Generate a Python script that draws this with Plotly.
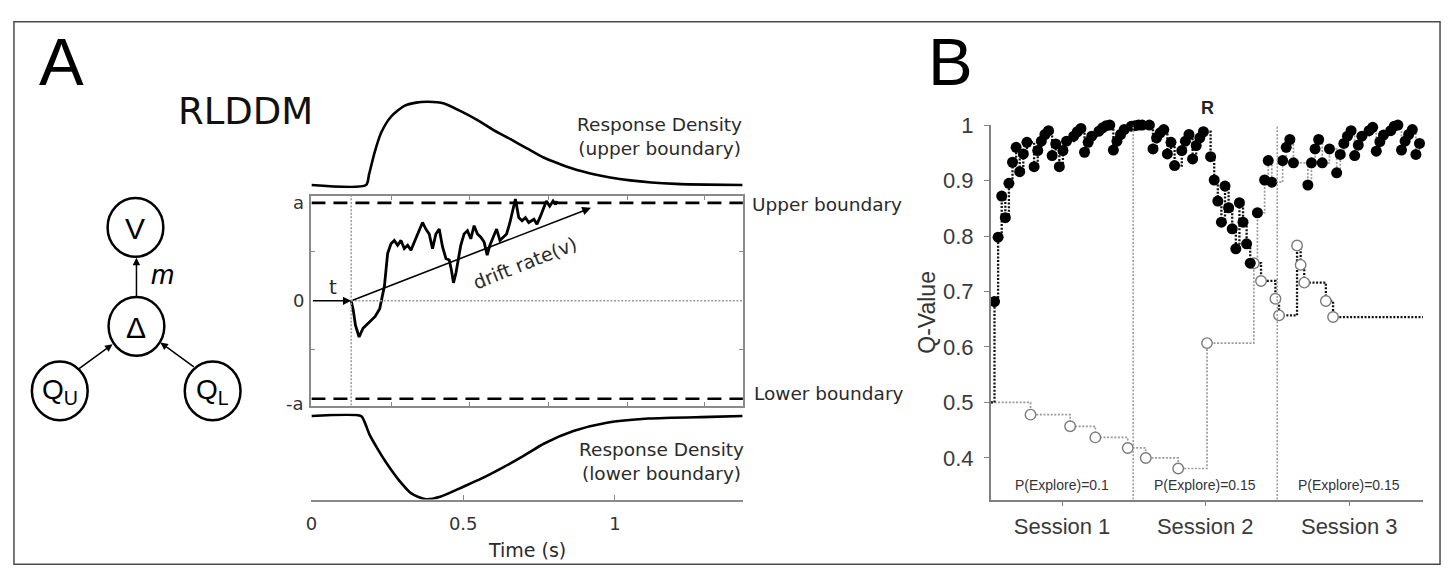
import plotly.graph_objects as go

W, H = 1448, 572


def fx(x):
    return x / W


def fy(y):
    return 1 - y / H


# ---------------- Panel A data ----------------
dens_t_upper = [0, 0.18, 0.19, 0.208, 0.23, 0.262, 0.306, 0.345, 0.383, 0.437,
                0.49, 0.547, 0.6, 0.656, 0.71, 0.765, 0.82, 0.875, 0.93, 0.984,
                1.05, 1.12, 1.2, 1.3, 1.42]
dens_upper = [0, 0, 0.13, 0.39, 0.63, 0.82, 0.95, 0.99, 1.0, 0.98,
              0.89, 0.78, 0.66, 0.55, 0.44, 0.33, 0.25, 0.18, 0.13, 0.09,
              0.055, 0.03, 0.013, 0.004, 0]
dens_t_lower = [0, 0.164, 0.175, 0.191, 0.219, 0.25, 0.288, 0.329, 0.377, 0.424,
                0.5, 0.561, 0.63, 0.699, 0.767, 0.863, 0.973, 1.11, 1.315, 1.42]
dens_lower = [0, 0, 0.07, 0.22, 0.4, 0.58, 0.77, 0.93, 1.0, 0.97,
              0.85, 0.75, 0.62, 0.48, 0.33, 0.18, 0.08, 0.03, 0.01, 0]

walk_t = [0.131, 0.138, 0.145, 0.157, 0.17, 0.19, 0.21, 0.225, 0.235, 0.2405,
          0.251, 0.262, 0.273, 0.284, 0.295, 0.306, 0.317, 0.328, 0.339, 0.355,
          0.366, 0.377, 0.388, 0.399, 0.41, 0.421, 0.432, 0.443, 0.454, 0.461,
          0.468, 0.476, 0.483, 0.492, 0.503, 0.514, 0.525, 0.536, 0.547, 0.558,
          0.569, 0.579, 0.588, 0.599, 0.61, 0.621, 0.632, 0.643, 0.654, 0.665,
          0.672, 0.683, 0.694, 0.705, 0.716, 0.733, 0.743, 0.755, 0.765, 0.774,
          0.785, 0.796, 0.804, 0.809]
walk_v = [0, -0.1, -0.25, -0.37, -0.28, -0.22, -0.16, -0.08, 0.05, 0.15,
          0.483, 0.583, 0.617, 0.567, 0.617, 0.533, 0.567, 0.517, 0.6, 0.717,
          0.8, 0.733, 0.683, 0.533, 0.683, 0.733, 0.55, 0.433, 0.417, 0.317,
          0.183, 0.283, 0.4, 0.567, 0.683, 0.717, 0.633, 0.767, 0.683, 0.65,
          0.6, 0.467, 0.567, 0.65, 0.733, 0.617, 0.65, 0.683, 0.8, 0.933,
          1.04, 0.85, 0.817, 0.85, 0.8, 0.833, 0.783, 0.867, 0.95, 1.02,
          0.967, 1.02, 0.983, 1.02]

non_decision_time = 0.131
drift_end_t, drift_end_v = 0.921, 0.95
boundary = 1.0
time_ticks = [0, 0.5, 1]
time_ticktext = ["0", "0.5", "1"]
time_max = 1.4216

# ---------------- Panel B data ----------------
q_init = 0.5
a_trials = [1, 2, 3, 4, 5, 6, 7, 8, 9, 10, 12, 13, 14, 15, 16, 17, 18, 19, 20, 21,
            23, 24, 25, 26, 27, 28, 30, 31, 32, 33, 34, 35, 36, 37, 39,
            40, 41, 42, 44, 45, 46, 47, 48, 49, 50, 51, 53, 54, 55, 56, 57, 58, 59,
            61, 62, 63, 64, 65, 66, 67, 68, 69, 70, 71, 72,
            75, 79, 80, 85, 86, 87, 93, 95]
a_values = [0.682, 0.798, 0.872, 0.833, 0.895, 0.933, 0.96, 0.916, 0.948, 0.969,
            0.925, 0.954, 0.971, 0.983, 0.99, 0.945, 0.966, 0.925, 0.954, 0.971,
            0.98, 0.988, 0.994, 0.951, 0.969, 0.98, 0.989, 0.995, 0.999, 1.0,
            0.955, 0.971, 0.983, 0.992, 0.998,
            0.999, 1.0, 1.0, 1.0, 0.957, 0.977, 0.986, 0.992, 0.948, 0.969, 0.927,
            0.954, 0.971, 0.983, 0.939, 0.963, 0.977, 0.988,
            0.943, 0.901, 0.863, 0.825, 0.89, 0.851, 0.813, 0.777, 0.86, 0.825, 0.786, 0.751,
            0.719, 0.687, 0.657, 0.783, 0.748, 0.716, 0.683, 0.654]
b_trials = [11, 22, 29, 38, 43, 52, 60, 73, 74, 76, 77, 78, 81, 82, 83, 84,
            88, 89, 90, 91, 92, 94, 96, 97, 98, 99, 100, 101, 102, 103,
            105, 106, 107, 108, 109, 111, 112, 113, 114, 115, 116, 117, 118, 119]
b_values = [0.478, 0.457, 0.437, 0.418, 0.40, 0.381, 0.607, 0.751,
            0.842, 0.901, 0.936, 0.897, 0.936, 0.96, 0.974, 0.932,
            0.892, 0.932, 0.957, 0.974, 0.932, 0.957,
            0.914, 0.947, 0.967, 0.98, 0.99, 0.945, 0.964, 0.98,
            0.99, 0.996, 0.953, 0.97, 0.982, 0.99, 0.998, 1.0, 0.955, 0.971,
            0.983, 0.992, 0.947, 0.967]
explore_trials = [11, 22, 29, 38, 43, 52, 60, 73, 75, 79, 80, 85, 86, 87, 93, 95]
n_trials = 120
session_bounds = [39.5, 79.5]
session_centers = [19.75, 59.5, 99.5]
session_labels = ["Session 1", "Session 2", "Session 3"]
p_explore_labels = ["P(Explore)=0.1", "P(Explore)=0.15", "P(Explore)=0.15"]
reversal_trial = 60
q_ticks = [0.4, 0.5, 0.6, 0.7, 0.8, 0.9, 1.0]
q_ticktext = ["0.4", "0.5", "0.6", "0.7", "0.8", "0.9", "1"]

# ---------------- styles ----------------
SANS = "Liberation Sans, Arial, sans-serif"
VERD = "DejaVu Sans, Verdana, sans-serif"
FRAME = "#8a8a8a"
TXT = "#2a2a2a"
DOT = "2px,1.6px"

fig = go.Figure()

# Panel A traces
fig.add_trace(go.Scatter(x=dens_t_upper, y=dens_upper, mode="lines", xaxis="x", yaxis="y",
                         line=dict(color="black", width=2.6, shape="spline", smoothing=0.7)))
fig.add_trace(go.Scatter(x=walk_t, y=walk_v, mode="lines", xaxis="x2", yaxis="y2",
                         line=dict(color="black", width=2.8)))
fig.add_trace(go.Scatter(x=dens_t_lower, y=[-d for d in dens_lower], mode="lines", xaxis="x3", yaxis="y3",
                         line=dict(color="black", width=2.6, shape="spline", smoothing=0.7)))

# Panel B traces
a_line_x = [0] + a_trials + [n_trials]
a_line_y = [q_init] + a_values + [a_values[-1]]
b_line_x = [0] + b_trials + [n_trials]
b_line_y = [q_init] + b_values + [b_values[-1]]
fig.add_trace(go.Scatter(x=b_line_x, y=b_line_y, mode="lines", xaxis="x4", yaxis="y4",
                         line=dict(color="#9a9a9a", width=1.7, dash=DOT, shape="hv")))
fig.add_trace(go.Scatter(x=a_line_x, y=a_line_y, mode="lines", xaxis="x4", yaxis="y4",
                         line=dict(color="#111111", width=2.3, dash=DOT, shape="hv")))

pts = list(zip(a_trials, a_values)) + list(zip(b_trials, b_values))
open_pts = [(t, v) for t, v in pts if t in explore_trials]
fill_pts = [(t, v) for t, v in pts if t not in explore_trials]
fig.add_trace(go.Scatter(x=[p[0] for p in open_pts], y=[p[1] for p in open_pts], mode="markers",
                         xaxis="x4", yaxis="y4", cliponaxis=False,
                         marker=dict(size=10.5, color="white", line=dict(color="#7a7a7a", width=1.4))))
fig.add_trace(go.Scatter(x=[p[0] for p in fill_pts], y=[p[1] for p in fill_pts], mode="markers",
                         xaxis="x4", yaxis="y4", cliponaxis=False,
                         marker=dict(size=11, color="black", line=dict(width=0))))

shapes = []
# figure border
shapes.append(dict(type="rect", xref="paper", yref="paper", x0=fx(8), x1=fx(1440), y0=fy(564), y1=fy(10),
                   line=dict(color="#4a4a4a", width=1.5)))
# diagram circles
nodes = {"V": (130, 220), "D": (131, 321), "QU": (54, 387), "QL": (207.5, 387)}
for cx, cy in nodes.values():
    shapes.append(dict(type="circle", xref="paper", yref="paper",
                       x0=fx(cx - 28), x1=fx(cx + 28), y0=fy(cy + 30), y1=fy(cy - 30),
                       line=dict(color="black", width=2.5)))
# DDM boundaries and guides
for b in (boundary, -boundary):
    shapes.append(dict(type="line", xref="x2", yref="y2", x0=0, x1=time_max, y0=b, y1=b,
                       line=dict(color="black", width=2.6, dash="14px,8px")))
shapes.append(dict(type="line", xref="x2", yref="y2", x0=non_decision_time, x1=non_decision_time,
                   y0=-1.07, y1=1.07, line=dict(color="#999999", width=1.5, dash=DOT)))
shapes.append(dict(type="line", xref="x2", yref="y2", x0=non_decision_time, x1=time_max,
                   y0=0, y1=0, line=dict(color="#999999", width=1.5, dash=DOT)))
# Session dividers
for sb in session_bounds:
    shapes.append(dict(type="line", xref="x4", yref="y4", x0=sb, x1=sb, y0=0.325, y1=1.0,
                       line=dict(color="#999999", width=1.5, dash=DOT)))

ann = []


def txt(x, y, s, size, font=SANS, color=TXT, xanchor="center", yanchor="middle", **kw):
    d = dict(x=fx(x), y=fy(y), xref="paper", yref="paper", text=s, showarrow=False,
             xanchor=xanchor, yanchor=yanchor,
             font=dict(size=size, family=font, color=color))
    d.update(kw)
    ann.append(d)


txt(55.5, 51, "A", 67, color="black")
txt(948, 51, "B", 67, color="black")
txt(240, 102, "RLDDM", 37, font=VERD, color="#111")
# diagram labels
txt(130, 221, "V", 30, color="black")
txt(131, 322, "Δ", 30, color="black")
txt(54, 388, "Q<sub>U</sub>", 28, color="black")
txt(207.5, 388, "Q<sub>L</sub>", 28, color="black")
txt(157, 268, "<i>m</i>", 28, color="black")


def arrow(hx, hy, tx, ty, w=1.5):
    ann.append(dict(x=fx(hx), y=fy(hy), xref="paper", yref="paper", ax=tx - hx, ay=ty - hy,
                    axref="pixel", ayref="pixel", text="", showarrow=True, arrowhead=2,
                    arrowsize=1, arrowwidth=w, arrowcolor="black", standoff=0))


arrow(131, 251, 131, 291)
arrow(107, 339.4, 71.7, 365)
arrow(155, 337.6, 190, 363)

# DDM labels
txt(301, 195, "a", 18, font=VERD, color="#333", xanchor="right")
txt(301, 295, "0", 18, font=VERD, color="#333", xanchor="right")
txt(301, 400, "-a", 18, font=VERD, color="#333", xanchor="right")
txt(656, 127, "Response Density<br>(upper boundary)", 18.5, font=VERD, color=TXT)
txt(658, 459, "Response Density<br>(lower boundary)", 18.5, font=VERD, color=TXT)
txt(747, 197, "Upper boundary", 18.5, font=VERD, color=TXT, xanchor="left")
txt(749, 390, "Lower boundary", 18.5, font=VERD, color=TXT, xanchor="left")
txt(523, 550, "Time (s)", 19, font=VERD, color=TXT)
txt(328, 281, "t", 20, font=VERD, color=TXT)
# t arrow and drift arrow (data coords)
ann.append(dict(x=non_decision_time, y=0, xref="x2", yref="y2", ax=0, ay=0, axref="x2", ayref="y2",
                text="", showarrow=True, arrowhead=2, arrowsize=1.1, arrowwidth=1.5,
                arrowcolor="black", standoff=0))
ann.append(dict(x=drift_end_t, y=drift_end_v, xref="x2", yref="y2", ax=non_decision_time, ay=0,
                axref="x2", ayref="y2", text="", showarrow=True, arrowhead=2, arrowsize=1.1,
                arrowwidth=1.6, arrowcolor="black", standoff=0))
ann.append(dict(x=0.702, y=0.39, xref="x2", yref="y2", text="drift rate(v)", showarrow=False,
                xanchor="center", yanchor="middle",
                textangle=-21.7, font=dict(size=19, family=VERD, color=TXT)))

# Panel B labels
txt(924, 307, "Q-Value", 23, color="#333", textangle=-90)
ann.append(dict(x=reversal_trial, y=fy(98), xref="x4", yref="paper", text="<b>R</b>", showarrow=False,
                xanchor="center", yanchor="middle",
                font=dict(size=18, family=SANS, color="#222")))
for c, lab in zip(session_centers, p_explore_labels):
    ann.append(dict(x=c, y=fy(483), xref="x4", yref="paper", text=lab, showarrow=False,
                    xanchor="center", yanchor="middle",
                    font=dict(size=14, family=SANS, color="#333")))

dom_t = [fx(306.7), fx(740)]
fig.update_layout(
    width=W, height=H, margin=dict(l=0, r=0, t=0, b=0), autosize=False,
    paper_bgcolor="white", plot_bgcolor="rgba(0,0,0,0)", showlegend=False,
    shapes=shapes, annotations=ann,
    xaxis=dict(domain=dom_t, range=[0, time_max], anchor="y", visible=False),
    yaxis=dict(domain=[fy(180), fy(88)], range=[-0.0388, 1.0435], anchor="x", visible=False),
    xaxis2=dict(domain=dom_t, range=[0, time_max], anchor="y2", showline=True, mirror="ticks",
                linecolor=FRAME, linewidth=1.5, ticks="inside", ticklen=4, tickcolor=FRAME,
                tickvals=[0.265, 0.52, 0.78, 1.04, 1.295], showticklabels=False,
                showgrid=False, zeroline=False),
    yaxis2=dict(domain=[fy(402), fy(188)], range=[-1.07, 1.07], anchor="x2", showline=True, mirror="ticks",
                linecolor=FRAME, linewidth=1.5, ticks="inside", ticklen=4, tickcolor=FRAME,
                tickvals=[-0.5, 0.5], showticklabels=False, showgrid=False, zeroline=False),
    xaxis3=dict(domain=dom_t, range=[0, time_max], anchor="y3", showline=True, linecolor=FRAME,
                linewidth=1.5, ticks="inside", ticklen=5, tickcolor=FRAME, tickvals=time_ticks,
                ticktext=time_ticktext, tickfont=dict(size=18, family=VERD, color="#333"),
                ticklabelstandoff=7, showgrid=False, zeroline=False),
    yaxis3=dict(domain=[fy(498), fy(410)], range=[-1.004, 0.0318], anchor="x3", visible=False),
    xaxis4=dict(domain=[fx(989), fx(1423)], range=[0, n_trials], anchor="y4", showline=True,
                linecolor="#808080", linewidth=2, ticks="outside", ticklen=4, tickcolor="#808080",
                tickvals=session_centers, ticktext=session_labels,
                tickfont=dict(size=22, family=SANS, color="#3a3a3a"), ticklabelstandoff=2,
                showgrid=False, zeroline=False),
    yaxis4=dict(domain=[fy(498), fy(115.5)], range=[0.325, 1.0], anchor="x4", showline=True,
                linecolor="#808080", linewidth=2, ticks="outside", ticklen=5, tickcolor="#808080",
                tickvals=q_ticks, ticktext=q_ticktext,
                tickfont=dict(size=22, family=SANS, color="#3a3a3a"), ticklabelstandoff=6,
                showgrid=False, zeroline=False),
)

fig.write_html("out.html", config={"displayModeBar": False},
               post_script="document.body.style.margin='0px';document.body.style.overflow='hidden';")
